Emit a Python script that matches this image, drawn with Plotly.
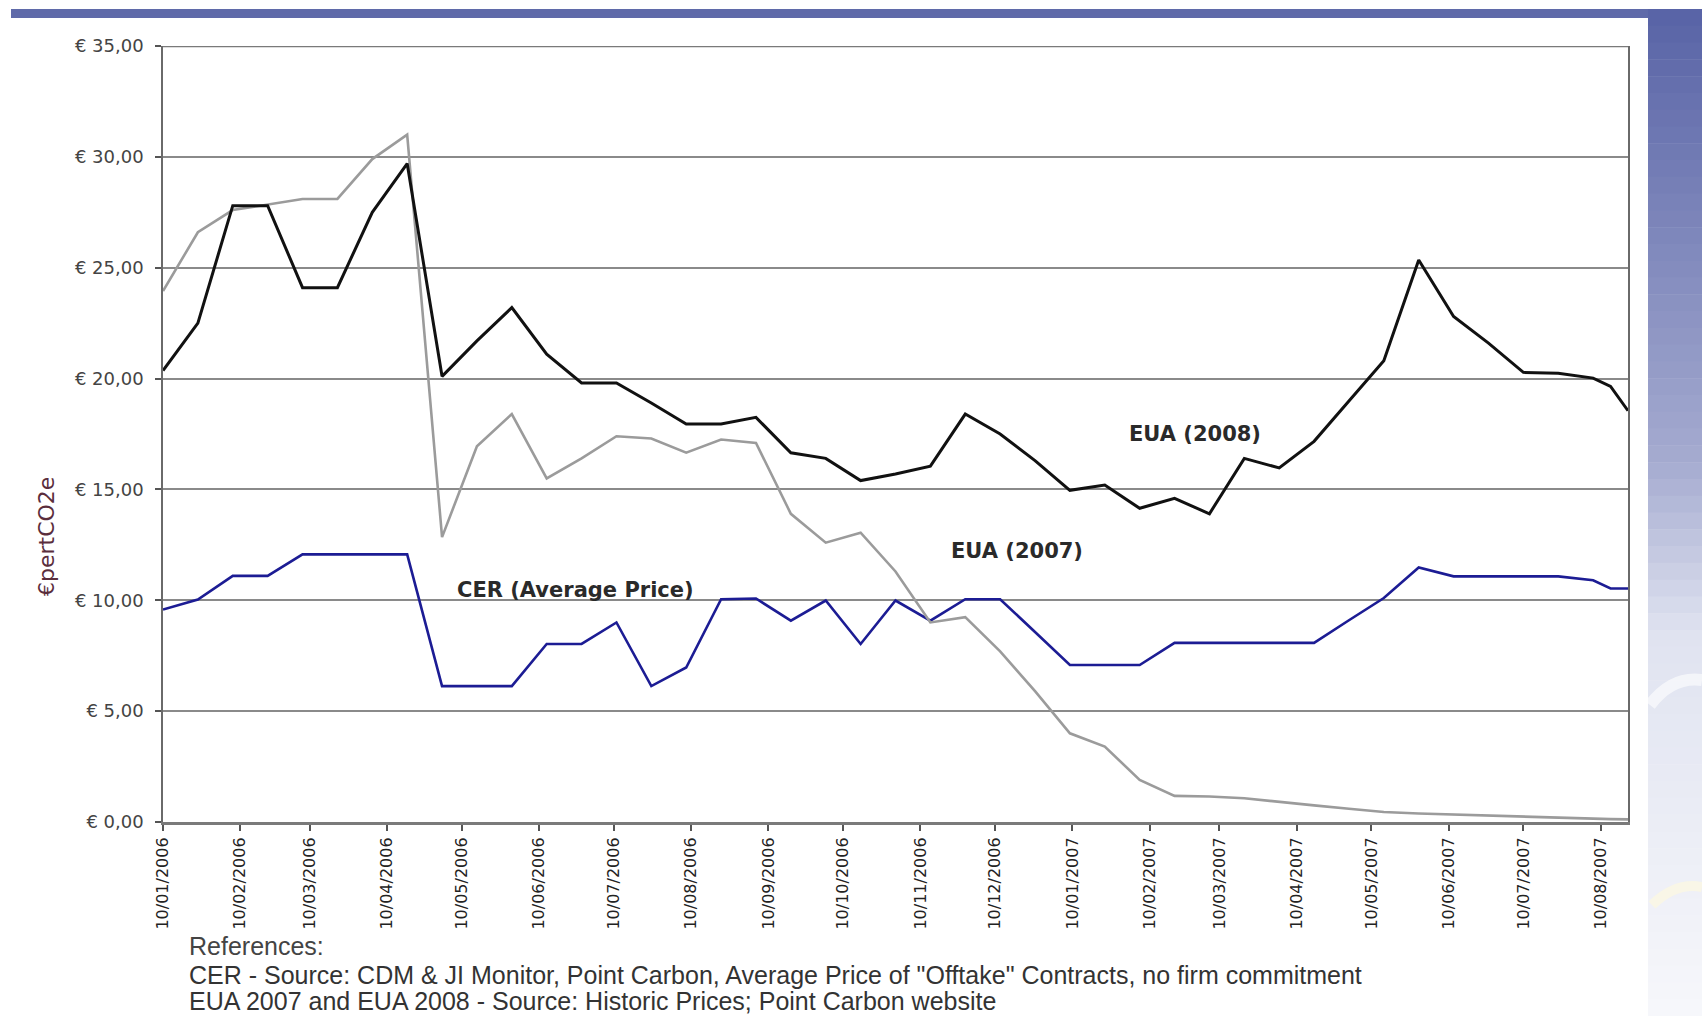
import plotly.graph_objects as go

# ---------------- data ----------------
dates = [
    "2006-01-10", "2006-01-24", "2006-02-07", "2006-02-21", "2006-03-07", "2006-03-21",
    "2006-04-04", "2006-04-18", "2006-05-02", "2006-05-16", "2006-05-30", "2006-06-13",
    "2006-06-27", "2006-07-11", "2006-07-25", "2006-08-08", "2006-08-22", "2006-09-05",
    "2006-09-19", "2006-10-03", "2006-10-17", "2006-10-31", "2006-11-14", "2006-11-28",
    "2006-12-12", "2006-12-26", "2007-01-09", "2007-01-23", "2007-02-06", "2007-02-20",
    "2007-03-06", "2007-03-20", "2007-04-03", "2007-04-17", "2007-05-01", "2007-05-15",
    "2007-05-29", "2007-06-12", "2007-06-26", "2007-07-10", "2007-07-24", "2007-08-07",
    "2007-08-14", "2007-08-21",
]

eua_2008 = [
    20.36, 22.5, 27.8, 27.8, 24.1, 24.1, 27.5, 29.7, 20.1, 21.7, 23.2, 21.1,
    19.8, 19.8, 18.9, 17.95, 17.95, 18.25, 16.65, 16.4, 15.4, 15.7, 16.05, 18.4,
    17.5, 16.3, 14.96, 15.2, 14.15, 14.6, 13.9, 16.4, 15.97, 17.17, 18.99, 20.8,
    25.35, 22.8, 21.6, 20.28, 20.24, 20.02, 19.65, 18.55,
]

eua_2007 = [
    23.95, 26.6, 27.6, 27.85, 28.1, 28.1, 29.9, 31.0, 12.85, 16.95, 18.4, 15.5,
    16.4, 17.4, 17.3, 16.66, 17.25, 17.1, 13.9, 12.6, 13.05, 11.3, 9.0, 9.24,
    7.7, 5.9, 4.0, 3.4, 1.9, 1.18, 1.15, 1.07, 0.9, 0.75, 0.6, 0.45,
    0.38, 0.33, 0.28, 0.25, 0.2, 0.15, 0.13, 0.12,
]

cer_avg = [
    9.58, 10.03, 11.1, 11.1, 12.07, 12.07, 12.07, 12.07, 6.13, 6.13, 6.13, 8.03,
    8.03, 9.0, 6.13, 6.97, 10.05, 10.08, 9.08, 9.99, 8.03, 9.99, 9.08, 10.05,
    10.05, 8.57, 7.08, 7.08, 7.08, 8.08, 8.08, 8.08, 8.08, 8.08, 9.1, 10.1,
    11.48, 11.08, 11.08, 11.08, 11.08, 10.9, 10.53, 10.53,
]

x_tick_dates = [
    "2006-01-10", "2006-02-10", "2006-03-10", "2006-04-10", "2006-05-10", "2006-06-10",
    "2006-07-10", "2006-08-10", "2006-09-10", "2006-10-10", "2006-11-10", "2006-12-10",
    "2007-01-10", "2007-02-10", "2007-03-10", "2007-04-10", "2007-05-10", "2007-06-10",
    "2007-07-10", "2007-08-10",
]
x_tick_labels = [
    "10/01/2006", "10/02/2006", "10/03/2006", "10/04/2006", "10/05/2006", "10/06/2006",
    "10/07/2006", "10/08/2006", "10/09/2006", "10/10/2006", "10/11/2006", "10/12/2006",
    "10/01/2007", "10/02/2007", "10/03/2007", "10/04/2007", "10/05/2007", "10/06/2007",
    "10/07/2007", "10/08/2007",
]
y_tick_values = [0, 5, 10, 15, 20, 25, 30, 35]
y_tick_labels = ["€ 0,00", "€ 5,00", "€ 10,00", "€ 15,00", "€ 20,00", "€ 25,00", "€ 30,00", "€ 35,00"]

# ---------------- layout geometry (pixels) ----------------
W, H = 1702, 1016
L, R, T, B = 163, 1628, 46, 822


def pxx(x):
    return (x - L) / (R - L)


def pyy(y):
    return (B - y) / (B - T)


fig = go.Figure()
fig.add_trace(go.Scatter(x=dates, y=cer_avg, mode="lines", name="CER (Average Price)",
                         line=dict(color="#1c1c94", width=2.6)))
fig.add_trace(go.Scatter(x=dates, y=eua_2007, mode="lines", name="EUA (2007)",
                         line=dict(color="#9b9b9b", width=2.6)))
fig.add_trace(go.Scatter(x=dates, y=eua_2008, mode="lines", name="EUA (2008)",
                         line=dict(color="#111111", width=3)))

shapes = []
# top blue bar
shapes.append(dict(type="rect", xref="paper", yref="paper", layer="below",
                   x0=pxx(11), x1=pxx(1648), y0=pyy(18), y1=pyy(9),
                   fillcolor="#5f6aa9", line=dict(width=0)))
# right gradient panel (stacked strips)
stops = [(0.0, (88, 99, 166)), (0.45, (165, 171, 208)), (0.62, (224, 227, 240)), (1.0, (246, 247, 251))]


def grad(t):
    for (a, ca), (b, cb) in zip(stops[:-1], stops[1:]):
        if a <= t <= b:
            f = (t - a) / (b - a)
            return "rgb(%d,%d,%d)" % tuple(round(ca[i] + (cb[i] - ca[i]) * f) for i in range(3))
    return "rgb(246,247,251)"


N = 60
top_px, bot_px = 9, 1016
for i in range(N):
    y0p = top_px + (bot_px - top_px) * i / N
    y1p = top_px + (bot_px - top_px) * (i + 1) / N
    shapes.append(dict(type="rect", xref="paper", yref="paper", layer="below",
                       x0=pxx(1648), x1=pxx(1702), y0=pyy(y1p + 0.5), y1=pyy(y0p),
                       fillcolor=grad((i + 0.5) / N), line=dict(width=0)))

# faint swooshes on the side panel
shapes.append(dict(type="path", xref="paper", yref="paper", layer="below",
                   path="M %f,%f Q %f,%f %f,%f" % (pxx(1650), pyy(705), pxx(1672), pyy(676), pxx(1702), pyy(680)),
                   line=dict(color="rgba(255,255,255,0.6)", width=12)))
shapes.append(dict(type="path", xref="paper", yref="paper", layer="below",
                   path="M %f,%f Q %f,%f %f,%f" % (pxx(1652), pyy(905), pxx(1676), pyy(882), pxx(1702), pyy(887)),
                   line=dict(color="rgba(255,250,220,0.6)", width=10)))

# top border of the plot (dark line at 35)
shapes.append(dict(type="line", xref="paper", yref="y", x0=0, x1=1, y0=35, y1=35,
                   line=dict(color="#7a7a7a", width=2.5)))

lab_font = dict(family="DejaVu Sans", size=21, color="#2a2a2a")
ref_font = dict(family="Liberation Sans", size=25, color="#333333")
annotations = [
    dict(text="<b>EUA (2008)</b>", x=pxx(1195), y=pyy(434), xref="paper", yref="paper",
         showarrow=False, font=lab_font, xanchor="center", yanchor="middle"),
    dict(text="<b>EUA (2007)</b>", x=pxx(1017), y=pyy(551), xref="paper", yref="paper",
         showarrow=False, font=lab_font, xanchor="center", yanchor="middle"),
    dict(text="<b>CER (Average Price)</b>", x=pxx(575), y=pyy(590), xref="paper", yref="paper",
         showarrow=False, font=lab_font, xanchor="center", yanchor="middle"),
    dict(text="€pertCO2e", x=pxx(46), y=pyy(537), xref="paper", yref="paper",
         showarrow=False, textangle=-90, font=dict(family="DejaVu Sans", size=22, color="#5a2d3c"),
         xanchor="center", yanchor="middle"),
    dict(text="References:", x=pxx(187), y=pyy(946), xref="paper", yref="paper",
         showarrow=False, font=dict(family="Liberation Sans", size=25, color="#444444"),
         xanchor="left", yanchor="middle"),
    dict(text="CER - Source: CDM &amp; JI Monitor, Point Carbon, Average Price of \"Offtake\" Contracts, no firm commitment",
         x=pxx(187), y=pyy(975), xref="paper", yref="paper",
         showarrow=False, font=ref_font, xanchor="left", yanchor="middle"),
    dict(text="EUA 2007 and EUA 2008 - Source: Historic Prices; Point Carbon website",
         x=pxx(187), y=pyy(1001), xref="paper", yref="paper",
         showarrow=False, font=ref_font, xanchor="left", yanchor="middle"),
]

fig.update_layout(
    width=W, height=H,
    margin=dict(l=L, r=W - R, t=T, b=H - B, pad=0),
    paper_bgcolor="white", plot_bgcolor="white",
    showlegend=False,
    shapes=shapes,
    annotations=annotations,
    xaxis=dict(
        type="date", range=[dates[0], dates[-1]],
        tickmode="array", tickvals=x_tick_dates, ticktext=x_tick_labels,
        tickangle=-90, ticks="outside", ticklen=6, tickwidth=1.5, tickcolor="#555555",
        tickfont=dict(family="DejaVu Sans", size=16, color="#222222"),
        showgrid=False, zeroline=False,
        showline=True, linecolor="#7a7a7a", linewidth=3,
    ),
    yaxis=dict(
        range=[0, 35], tickmode="array", tickvals=y_tick_values, ticktext=y_tick_labels,
        ticks="outside", ticklen=6, tickwidth=1.5, tickcolor="#555555",
        ticklabelstandoff=8,
        tickfont=dict(family="DejaVu Sans", size=18, color="#444444"),
        showgrid=True, gridcolor="#8a8a8a", gridwidth=1.5, zeroline=False,
        showline=True, linecolor="#6a6a6a", linewidth=1.5, mirror=True,
    ),
)

fig.write_html("out.html", config={"displayModeBar": False},
               post_script="document.body.style.margin='0';document.body.style.overflow='hidden';")
